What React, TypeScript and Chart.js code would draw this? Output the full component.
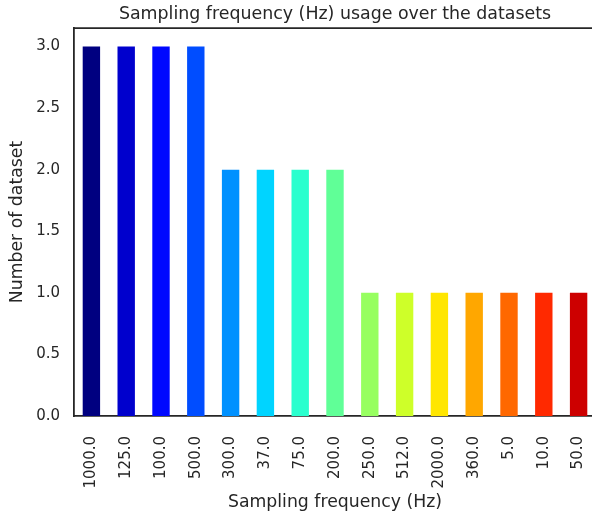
import React, { useEffect, useRef } from "react";
import { Chart, registerables } from "chart.js";

Chart.register(...registerables);

const categories = [
  "1000.0", "125.0", "100.0", "500.0", "300.0", "37.0", "75.0", "200.0",
  "250.0", "512.0", "2000.0", "360.0", "5.0", "10.0", "50.0",
];
const datasetCounts = [3, 3, 3, 3, 2, 2, 2, 2, 1, 1, 1, 1, 1, 1, 1];
const barColors = [
  "#000080", "#0000cd", "#0008ff", "#004dff", "#0091ff", "#00d4ff", "#29ffce",
  "#60ff97", "#97ff60", "#ceff29", "#ffe600", "#ffa700", "#ff6800", "#ff2900",
  "#cd0000",
];
const yTickValues = [0, 0.5, 1, 1.5, 2, 2.5, 3];
const yMin = 0;
const yMax = 3.15;

const INK = "#262626";
const FONT = "'DejaVu Sans', sans-serif";
const SPINE = 1.8;

const topSpine = {
  id: "topSpine",
  afterDraw(chart: any) {
    const { ctx, chartArea } = chart;
    ctx.save();
    ctx.strokeStyle = INK;
    ctx.lineWidth = SPINE;
    ctx.beginPath();
    ctx.moveTo(chartArea.left - SPINE / 2, chartArea.top);
    ctx.lineTo(chartArea.right + 2, chartArea.top);
    ctx.stroke();
    ctx.restore();
  },
};

export default function App() {
  const ref = useRef<HTMLCanvasElement | null>(null);

  useEffect(() => {
    if (!ref.current) return;
    const chart = new Chart(ref.current, {
      type: "bar",
      data: {
        labels: categories,
        datasets: [
          {
            data: datasetCounts,
            backgroundColor: barColors,
            borderWidth: 0,
            categoryPercentage: 1,
            barPercentage: 0.5,
          },
        ],
      },
      options: {
        animation: false,
        responsive: false,
        devicePixelRatio: 1,
        layout: { padding: 0 },
        plugins: {
          legend: { display: false },
          tooltip: { enabled: false },
          title: {
            display: true,
            fullSize: false,
            text: "Sampling frequency (Hz) usage over the datasets",
            color: INK,
            font: { family: FONT, size: 17.4, weight: "normal" },
            padding: { top: 4, bottom: 3.2 },
          },
        },
        scales: {
          x: {
            type: "category",
            offset: true,
            grid: { display: false, drawTicks: false, tickLength: 0 },
            border: { display: true, color: INK, width: SPINE },
            ticks: {
              color: INK,
              font: { family: FONT, size: 15 },
              minRotation: 90,
              maxRotation: 90,
              padding: 20,
              autoSkip: false,
            },
            title: {
              display: true,
              text: "Sampling frequency (Hz)",
              color: INK,
              font: { family: FONT, size: 17.3 },
              padding: { top: 0, bottom: 3.1 },
            },
            afterFit: (scale: any) => {
              scale.height = 100;
              scale.paddingLeft = 0;
              scale.paddingRight = 0;
            },
          },
          y: {
            type: "linear",
            min: yMin,
            max: yMax,
            grid: { display: false, drawTicks: false, tickLength: 0 },
            border: { display: true, color: INK, width: SPINE },
            ticks: {
              color: INK,
              font: { family: FONT, size: 15 },
              padding: 14,
              callback: (v: any) => Number(v).toFixed(1),
            },
            afterBuildTicks: (scale: any) => {
              scale.ticks = yTickValues.map((v) => ({ value: v }));
            },
            title: {
              display: true,
              text: "Number of dataset",
              color: INK,
              font: { family: FONT, size: 17.3 },
              padding: { top: 7, bottom: 0 },
            },
            afterFit: (scale: any) => {
              scale.width = 74;
              scale.paddingTop = 0;
              scale.paddingBottom = 0;
            },
          },
        },
      },
      plugins: [topSpine],
    });
    return () => chart.destroy();
  }, []);

  return (
    <div
      style={{
        position: "absolute",
        left: 0,
        top: 0,
        width: 592,
        height: 516,
        overflow: "hidden",
        background: "#fff",
      }}
    >
      <canvas
        ref={ref}
        width={596}
        height={516}
        style={{ display: "block", width: 596, height: 516 }}
      />
    </div>
  );
}
